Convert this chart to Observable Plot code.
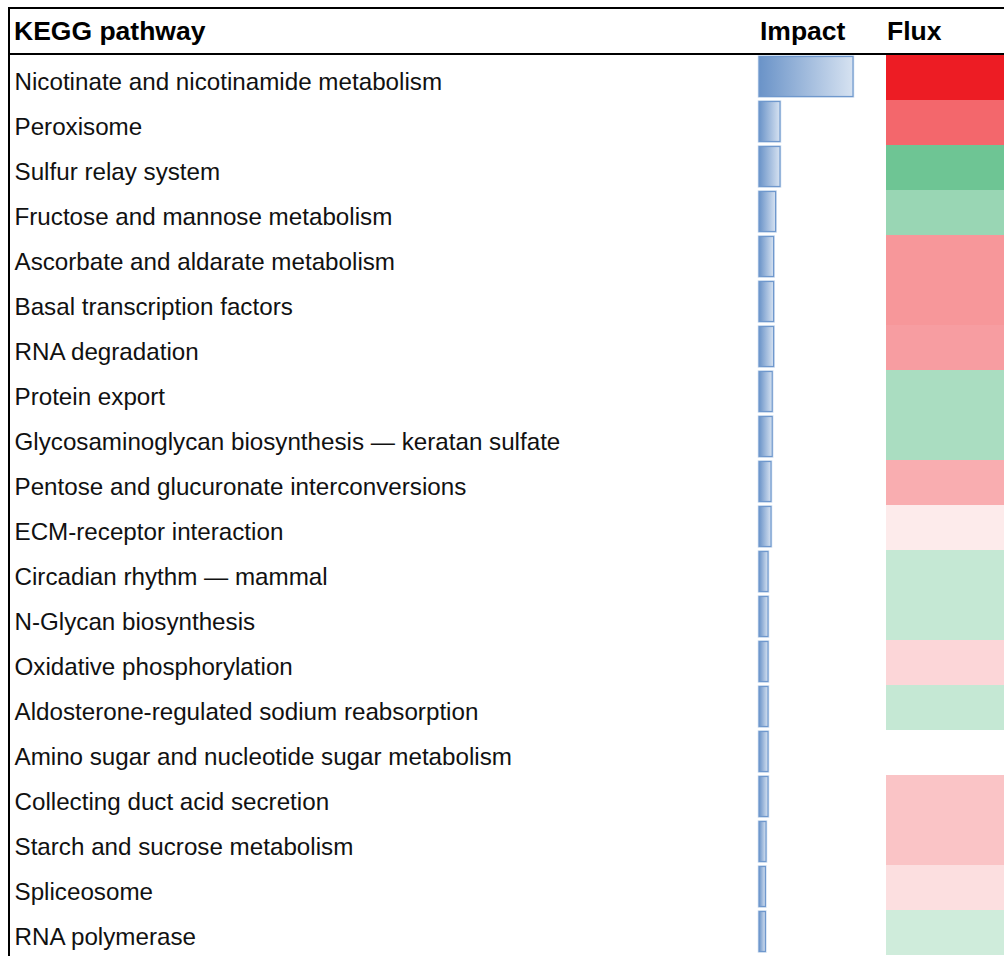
<!DOCTYPE html>
<html><head><meta charset="utf-8">
<script src="https://cdn.jsdelivr.net/npm/d3@7"></script>
<script src="https://cdn.jsdelivr.net/npm/@observablehq/plot@0.6"></script>
<style>
html,body{margin:0;padding:0;background:#fff;}
body{width:1004px;height:956px;overflow:hidden;font-family:"Liberation Sans",Arial,sans-serif;position:relative;}
#wrap{position:absolute;left:8px;top:7px;width:996px;height:949px;border-top:2px solid #000;border-left:2px solid #000;}
#head{position:relative;height:44px;border-bottom:2px solid #000;font-weight:bold;font-size:26.5px;color:#000;}
#head span{position:absolute;top:0;line-height:44px;white-space:nowrap;}
#rows{display:flex;align-items:flex-start;}
#rows svg{display:block;}
</style></head>
<body><div id="wrap"><div id="head"></div><div id="rows"></div></div>
<script>
const pathways = [
  "Nicotinate and nicotinamide metabolism",
  "Peroxisome",
  "Sulfur relay system",
  "Fructose and mannose metabolism",
  "Ascorbate and aldarate metabolism",
  "Basal transcription factors",
  "RNA degradation",
  "Protein export",
  "Glycosaminoglycan biosynthesis \u2014 keratan sulfate",
  "Pentose and glucuronate interconversions",
  "ECM-receptor interaction",
  "Circadian rhythm \u2014 mammal",
  "N-Glycan biosynthesis",
  "Oxidative phosphorylation",
  "Aldosterone-regulated sodium reabsorption",
  "Amino sugar and nucleotide sugar metabolism",
  "Collecting duct acid secretion",
  "Starch and sucrose metabolism",
  "Spliceosome",
  "RNA polymerase"
];
const impact = [0.47, 0.105, 0.105, 0.083, 0.073, 0.073, 0.073, 0.066, 0.066, 0.06,
                0.06, 0.045, 0.045, 0.045, 0.045, 0.045, 0.045, 0.035, 0.032, 0.032];
const flux = [1.0, 0.67, -0.6, -0.42, 0.46, 0.46, 0.43, -0.35, -0.35, 0.36,
              0.09, -0.24, -0.24, 0.18, -0.24, 0, 0.26, 0.26, 0.14, -0.2];
const headers = ["KEGG pathway", "Impact", "Flux"];

const data = pathways.map((p, i) => ({pathway: p, impact: impact[i], flux: flux[i]}));

// header
const headPos = [4, 750, 877];
const head = document.getElementById("head");
headers.forEach((h, i) => {
  const s = document.createElement("span");
  s.textContent = h;
  s.style.left = headPos[i] + "px";
  head.appendChild(s);
});

const font = {fontFamily: "'Liberation Sans', Arial, sans-serif", background: "transparent", overflow: "visible"};
const yScale = {type: "band", domain: pathways, axis: null, padding: 0};

const namePlot = Plot.plot({
  width: 748, height: 900, margin: 0,
  y: yScale,
  style: font,
  marks: [
    Plot.text(data, {y: "pathway", text: "pathway", frameAnchor: "left", textAnchor: "start",
      dx: 4, dy: 4.5, fontSize: 24.2, fill: "#111"})
  ]
});

const gradDefs = () => {
  const defs = d3.create("svg:defs");
  const g = defs.append("linearGradient").attr("id", "impactGrad")
    .attr("x1", "0").attr("x2", "1").attr("y1", "0").attr("y2", "0");
  g.append("stop").attr("offset", "0").attr("stop-color", "#6a93c8");
  g.append("stop").attr("offset", "1").attr("stop-color", "#d6e2f1");
  return defs.node();
};

const impactPlot = Plot.plot({
  width: 128, height: 900, margin: 0,
  x: {domain: [0, 0.5], range: [1, 101], axis: null},
  y: yScale,
  style: font,
  marks: [
    gradDefs,
    Plot.barX(data, {x: "impact", y: "pathway", fill: "url(#impactGrad)",
      stroke: "#d3e0f1", strokeWidth: 2.6, insetTop: 1.5, insetBottom: 3.5}),
    Plot.barX(data, {x: "impact", y: "pathway", fill: "url(#impactGrad)",
      stroke: "#6f98cd", strokeWidth: 1.2, insetTop: 1.5, insetBottom: 3.5})
  ]
});

const fluxPlot = Plot.plot({
  width: 118, height: 900, margin: 0,
  y: yScale,
  color: {type: "linear", domain: [-1, 0, 1], range: ["#0d9e4d", "#ffffff", "#ed1c24"], interpolate: "rgb"},
  style: font,
  marks: [
    Plot.cell(data, {y: "pathway", fill: "flux", inset: 0})
  ]
});

const rows = document.getElementById("rows");
rows.appendChild(namePlot);
rows.appendChild(impactPlot);
rows.appendChild(fluxPlot);
</script>
</body></html>
